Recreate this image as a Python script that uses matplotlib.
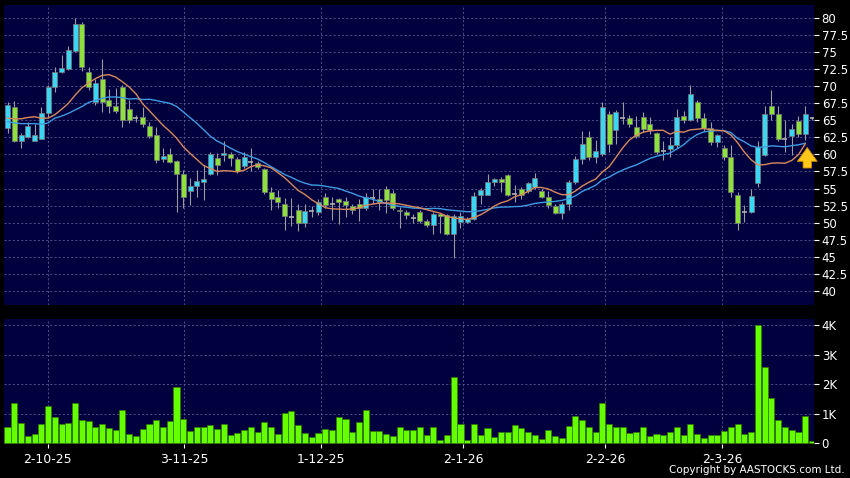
import numpy as np
import pandas as pd
import matplotlib
matplotlib.use("Agg")
import matplotlib.pyplot as plt

# Daily OHLC (oldest first)
opens = [63.8, 66.9, 61.9, 62.6, 62.0, 62.3, 66.0, 69.9, 72.0, 72.5,
         75.2, 79.1, 72.1, 67.6, 71.1, 68.0, 67.1, 69.9, 66.7, 65.4,
         65.4, 64.1, 62.8, 59.3, 60.0, 59.0, 57.1, 54.7, 55.4, 56.0,
         57.1, 59.5, 59.9, 60.0, 59.3, 58.3, 58.9, 58.8, 57.9, 54.5,
         53.7, 52.7, 50.9, 51.9, 50.0, 51.7, 51.6, 53.8, 52.7, 53.4,
         53.2, 52.4, 52.8, 52.2, 53.5, 53.4, 54.9, 54.4, 51.9, 51.5,
         50.7, 51.5, 50.2, 49.6, 51.2, 51.1, 48.4, 50.1, 50.1, 50.6,
         54.0, 54.1, 56.0, 56.4, 57.0, 54.2, 55.0, 54.6, 55.2, 54.7,
         53.8, 52.5, 51.4, 52.7, 56.0, 59.3, 62.5, 59.6, 60.1, 65.9,
         63.6, 65.3, 65.3, 64.0, 65.4, 64.4, 63.1, 60.5, 60.8, 61.4,
         65.6, 65.0, 67.7, 65.3, 63.8, 61.8, 61.0, 59.6, 54.0, 51.6,
         51.6, 55.8, 59.9, 67.1, 65.9, 62.2, 62.7, 64.9, 63.0, 65.3]
highs = [67.6, 67.8, 63.1, 64.8, 64.5, 66.9, 70.2, 72.8, 74.5, 75.9,
         79.9, 79.4, 72.8, 71.1, 73.9, 69.5, 69.7, 70.1, 68.0, 65.8,
         66.9, 64.8, 64.0, 61.0, 61.0, 59.2, 57.7, 56.6, 57.7, 58.4,
         60.4, 60.2, 62.0, 60.3, 59.6, 60.4, 61.0, 59.0, 58.0, 55.2,
         54.8, 53.6, 53.6, 52.7, 52.8, 52.4, 53.4, 54.4, 53.8, 53.6,
         53.8, 52.7, 53.4, 54.3, 55.0, 54.9, 55.3, 54.8, 52.3, 51.9,
         51.3, 51.9, 50.5, 51.5, 51.3, 51.3, 51.2, 51.6, 50.9, 54.5,
         55.1, 57.1, 56.6, 56.7, 57.1, 55.5, 55.2, 56.0, 57.2, 54.9,
         54.7, 52.7, 53.0, 56.2, 59.8, 63.4, 63.4, 62.1, 67.6, 66.3,
         66.5, 67.6, 65.8, 65.6, 66.2, 65.5, 63.3, 62.0, 62.6, 66.6,
         66.4, 70.1, 67.9, 66.1, 64.7, 63.0, 61.4, 61.4, 54.5, 52.6,
         55.0, 61.9, 67.1, 69.4, 67.1, 65.1, 64.5, 65.6, 67.1, 65.5]
lows = [63.1, 61.8, 61.0, 62.4, 61.9, 62.2, 65.5, 69.2, 71.9, 72.3,
        75.0, 72.2, 69.4, 67.2, 66.2, 66.1, 66.0, 64.0, 64.6, 64.8,
        64.0, 62.4, 58.8, 58.9, 58.7, 51.6, 52.1, 52.6, 53.8, 53.3,
        57.0, 57.0, 59.0, 58.3, 57.2, 58.0, 57.5, 57.9, 54.2, 51.9,
        52.1, 48.9, 49.5, 48.8, 49.4, 50.8, 51.1, 52.1, 50.4, 49.8,
        50.9, 51.3, 50.3, 51.8, 52.8, 51.9, 51.4, 51.9, 49.2, 50.6,
        49.9, 50.0, 49.4, 48.3, 48.5, 48.2, 44.8, 49.2, 49.9, 50.4,
        52.8, 54.0, 55.4, 54.5, 53.9, 53.1, 53.4, 54.3, 55.0, 53.6,
        52.1, 51.2, 50.6, 51.8, 55.6, 58.6, 59.2, 58.8, 59.8, 60.3,
        61.5, 64.5, 64.0, 62.4, 63.3, 63.0, 60.0, 59.2, 59.6, 61.0,
        64.6, 64.9, 64.8, 63.4, 61.4, 61.1, 59.2, 53.8, 49.0, 50.1,
        51.4, 55.2, 59.8, 65.0, 61.9, 60.4, 59.9, 62.6, 62.1, 65.1]
closes = [67.2, 61.9, 62.8, 64.1, 62.9, 66.0, 69.9, 72.0, 72.6, 75.3,
          79.1, 72.8, 69.9, 70.4, 67.6, 67.1, 66.3, 65.1, 65.0, 65.3,
          64.4, 62.7, 59.2, 59.8, 58.9, 57.1, 53.7, 55.4, 56.1, 56.4,
          60.0, 58.5, 60.2, 59.4, 57.5, 59.6, 58.9, 58.2, 54.5, 53.4,
          53.1, 51.0, 50.9, 50.0, 51.7, 51.8, 53.0, 52.6, 52.7, 53.1,
          52.6, 51.9, 52.2, 53.8, 53.6, 53.1, 53.3, 52.1, 51.7, 51.1,
          50.6, 50.2, 49.6, 51.2, 51.0, 48.4, 51.0, 51.0, 50.6, 53.9,
          54.8, 56.0, 56.4, 56.0, 54.0, 54.2, 54.0, 55.8, 56.5, 53.8,
          52.6, 51.4, 52.7, 56.0, 59.3, 61.5, 59.6, 60.5, 66.9, 61.5,
          66.2, 65.3, 64.4, 62.7, 63.7, 63.6, 60.4, 60.5, 61.3, 65.5,
          65.0, 68.8, 65.3, 63.8, 61.8, 62.8, 59.6, 54.5, 50.0, 51.6,
          53.9, 61.1, 65.9, 65.9, 62.2, 62.3, 63.7, 63.0, 65.9, 65.3]
# volume in thousands
volume = [0.57, 1.36, 0.69, 0.26, 0.31, 0.65, 1.25, 0.89, 0.66, 0.69,
          1.38, 0.78, 0.74, 0.54, 0.66, 0.51, 0.46, 1.13, 0.31, 0.26,
          0.49, 0.66, 0.80, 0.57, 0.76, 1.89, 0.83, 0.43, 0.57, 0.57,
          0.63, 0.49, 0.65, 0.29, 0.36, 0.46, 0.54, 0.39, 0.72, 0.54,
          0.31, 1.02, 1.08, 0.63, 0.35, 0.22, 0.35, 0.48, 0.46, 0.88,
          0.83, 0.39, 0.71, 1.13, 0.43, 0.42, 0.33, 0.26, 0.55, 0.44,
          0.44, 0.57, 0.29, 0.55, 0.12, 0.29, 2.24, 0.66, 0.12, 0.65,
          0.29, 0.52, 0.21, 0.37, 0.40, 0.63, 0.51, 0.38, 0.27, 0.15,
          0.46, 0.26, 0.18, 0.60, 0.93, 0.80, 0.54, 0.38, 1.38, 0.66,
          0.57, 0.55, 0.35, 0.40, 0.57, 0.24, 0.33, 0.27, 0.37, 0.54,
          0.27, 0.65, 0.31, 0.18, 0.27, 0.27, 0.43, 0.54, 0.66, 0.33,
          0.38, 4.00, 2.57, 1.53, 0.80, 0.55, 0.46, 0.37, 0.93, 0.09]

# moving-average values visible before enough history
ma10_head = [65.3, 65.2, 65.2, 65.4, 65.5, 65.3, 65.3, 65.8, 66.6]
ma20_head = [64.8, 64.6, 64.5, 64.5, 64.5, 64.4, 64.6, 65.3, 65.6, 66.0,
             66.5, 67.0, 67.6, 67.9, 68.2, 68.4, 68.4, 68.3, 68.1]

date_labels = ["2-10-25", "3-11-25", "1-12-25", "2-1-26", "2-2-26", "2-3-26"]
date_pos = [5.95, 26.1, 46.3, 67.4, 88.4, 105.7]

price_ticks = [80, 77.5, 75, 72.5, 70, 67.5, 65, 62.5, 60, 57.5, 55, 52.5,
               50, 47.5, 45, 42.5, 40]
vol_ticks = [0, 1, 2, 3, 4]
vol_tick_labels = ["0", "1K", "2K", "3K", "4K"]

BG = "#00003e"
UP = "#3ad6f2"
DOWN = "#8ee03a"
WICK = "#9c9c9c"
GRID = "#5c5c92"
DASH = (0, (2.5, 2.5))

n = len(closes)
x = np.arange(n)
s = pd.Series(closes)
ma10 = s.rolling(10).mean().to_numpy()
ma20 = s.rolling(20).mean().to_numpy()
ma10[:len(ma10_head)] = ma10_head
ma20[:len(ma20_head)] = ma20_head

fig = plt.figure(figsize=(8.5, 4.78), dpi=100, facecolor="black")
ax = fig.add_axes([0.0047, 0.3619, 0.953, 0.6276], facecolor=BG)
axv = fig.add_axes([0.0047, 0.0718, 0.953, 0.2608], facecolor=BG, sharex=ax)

# grid
for a in (ax, axv):
    for p in date_pos:
        a.axvline(p, color=GRID, lw=0.6, ls=DASH, zorder=0)
for p in price_ticks:
    ax.axhline(p, color=GRID, lw=0.6, ls=DASH, zorder=0)
for v in vol_ticks[1:]:
    axv.axhline(v, color=GRID, lw=0.6, ls=DASH, zorder=0)

# candles
w = 0.74
for i in range(n):
    o, h, l, c = opens[i], highs[i], lows[i], closes[i]
    ax.vlines(x[i], l, h, color=WICK, lw=0.8, zorder=2)
    if abs(c - o) < 0.15:
        ax.hlines((o + c) / 2, x[i] - w / 2, x[i] + w / 2, color="#b0b0b0", lw=1.2, zorder=3)
        continue
    col = UP if c > o else DOWN
    ax.bar(x[i], abs(c - o), bottom=min(o, c), width=w, color=col,
           edgecolor="#7a7a7a", linewidth=0.5, zorder=3)

m = n - 1
ax.plot(x[:m], ma20[:m], color="#3f9be0", lw=1.0, zorder=4)
ax.plot(x[:m], ma10[:m], color="#d98a5c", lw=1.0, zorder=4)

ax.annotate("", xy=(118.3, 61.4), xytext=(118.3, 57.6),
            arrowprops=dict(arrowstyle="simple,head_width=1.3,head_length=0.9,tail_width=0.55",
                            fc="#ffc81a", ec="#d08a00", lw=0.6, mutation_scale=11),
            zorder=6)

ax.set_xlim(-0.52, 119.3)
ax.set_ylim(37.95, 81.86)
axv.set_ylim(-0.01, 4.2)

axv.bar(x, volume, width=0.9, color="#66ff00", edgecolor="#2f7a00", linewidth=0.5, zorder=3)

for a in (ax, axv):
    for sp in a.spines.values():
        sp.set_visible(False)
    a.yaxis.tick_right()
    a.tick_params(axis="y", colors="white", labelcolor="white", length=3.5,
                  width=0.8, pad=2, labelsize=8.5)

ax.set_yticks(price_ticks)
ax.set_yticklabels([f"{t:g}" for t in price_ticks])
ax.tick_params(axis="x", bottom=False, labelbottom=False)

axv.set_yticks(vol_ticks)
axv.set_yticklabels(vol_tick_labels)
axv.set_xticks(date_pos)
axv.set_xticklabels(date_labels)
axv.tick_params(axis="x", colors="white", labelcolor="white", length=3,
                width=0.8, pad=4, labelsize=9)

fig.text(0.994, 0.006, "Copyright by AASTOCKS.com Ltd.", color="white",
         fontsize=7.5, ha="right", va="bottom")

fig.savefig("out.png", dpi=100, facecolor="black")
